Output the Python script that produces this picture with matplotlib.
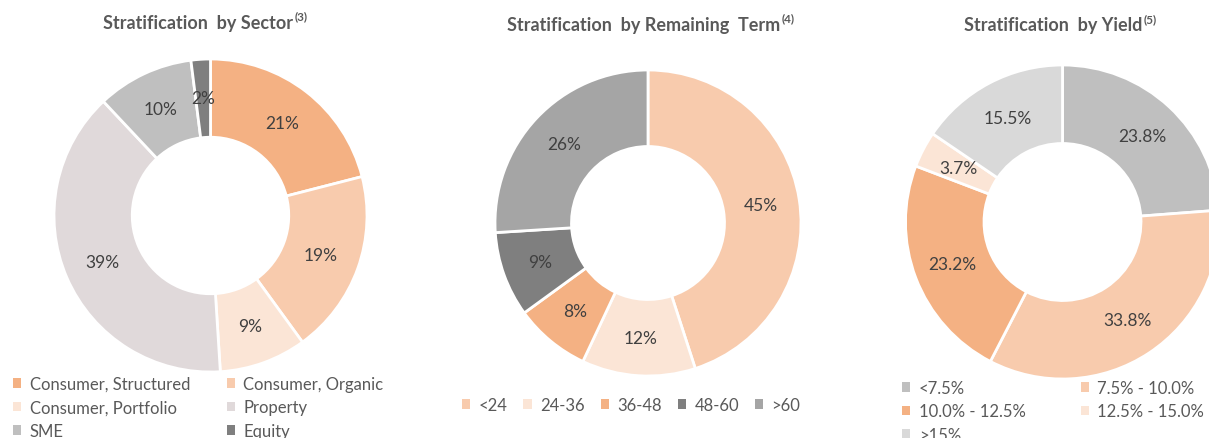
import matplotlib
matplotlib.use("Agg")
import matplotlib.pyplot as plt
from matplotlib.patches import Patch

plt.rcParams['font.family'] = ['Lato', 'DejaVu Sans']

# chart data
sector_labels = ["Consumer, Structured", "Consumer, Organic", "Consumer, Portfolio",
                 "Property", "SME", "Equity"]
sector_values = [21, 19, 9, 39, 10, 2]
sector_colors = ["#F4B183", "#F8CBAD", "#FBE5D6", "#E0D9DA", "#BFBFBF", "#7F7F7F"]

term_labels = ["<24", "24-36", "36-48", "48-60", ">60"]
term_values = [45, 12, 8, 9, 26]
term_colors = ["#F8CBAD", "#FBE5D6", "#F4B183", "#7F7F7F", "#A5A5A5"]

yield_labels = ["<7.5%", "7.5% - 10.0%", "10.0% - 12.5%", "12.5% - 15.0%", ">15%"]
yield_values = [23.8, 33.8, 23.2, 3.7, 15.5]
yield_colors = ["#BFBFBF", "#F8CBAD", "#F4B183", "#FBE5D6", "#D9D9D9"]

W, H = 1209, 439
fig = plt.figure(figsize=(W / 100, H / 100), dpi=100)

title_col = "#595959"
lab_col = "#404040"


def px_axes(cx, cy, r):
    return fig.add_axes([(cx - r) / W, (H - cy - r) / H, 2 * r / W, 2 * r / H])


def donut(ax, values, colors, fmt):
    wedges, texts, autotexts = ax.pie(
        values, colors=colors, startangle=90, counterclock=False,
        autopct=fmt, pctdistance=0.75,
        wedgeprops=dict(width=0.5, edgecolor="white", linewidth=2),
        textprops=dict(color=lab_col, fontsize=12.5))
    ax.set_xlim(-1, 1)
    ax.set_ylim(-1, 1)
    ax.set_aspect("equal")
    ax.axis("off")
    return wedges


def title(x, y, main, sup):
    t = fig.text(x / W, 1 - y / H, main, ha="center", va="center",
                 fontsize=13, fontweight="bold", color=title_col)
    fig.canvas.draw()
    bb = t.get_window_extent()
    fig.text(bb.x1 / W + 0.001, (bb.y1 - 2) / H, sup, ha="left", va="center",
             fontsize=8.5, fontweight="bold", color=title_col)


ax1 = px_axes(210.5, 216.5, 156.5)
w1 = donut(ax1, sector_values, sector_colors, lambda p: "%d%%" % round(p))
ax2 = px_axes(648, 224, 153)
w2 = donut(ax2, term_values, term_colors, lambda p: "%d%%" % round(p))
ax3 = px_axes(1062.5, 223, 157)
w3 = donut(ax3, yield_values, yield_colors, lambda p: "%.1f%%" % p)

title(198, 23, "Stratification  by Sector", "(3)")
title(644, 25, "Stratification  by Remaining  Term", "(4)")
title(1053, 26, "Stratification  by Yield", "(5)")


def make_legend(labels, colors, order, x, y, ncol, colsp):
    handles = [Patch(facecolor=colors[i], edgecolor="none") for i in order]
    labs = [labels[i] for i in order]
    fig.legend(handles, labs, loc="upper left", bbox_to_anchor=(x / W, 1 - y / H),
               ncol=ncol, frameon=False, fontsize=12, labelcolor=title_col,
               handlelength=0.5, handleheight=0.5, handletextpad=0.5,
               columnspacing=colsp, labelspacing=0.45, borderpad=0, borderaxespad=0)


make_legend(sector_labels, sector_colors, [0, 2, 4, 1, 3, 5], 13, 377, 2, 2.2)
make_legend(term_labels, term_colors, [0, 1, 2, 3, 4], 462, 398, 5, 0.95)
make_legend(yield_labels, yield_colors, [0, 2, 4, 1, 3], 902, 381, 2, 3.3)

fig.savefig("out.png", dpi=100)
